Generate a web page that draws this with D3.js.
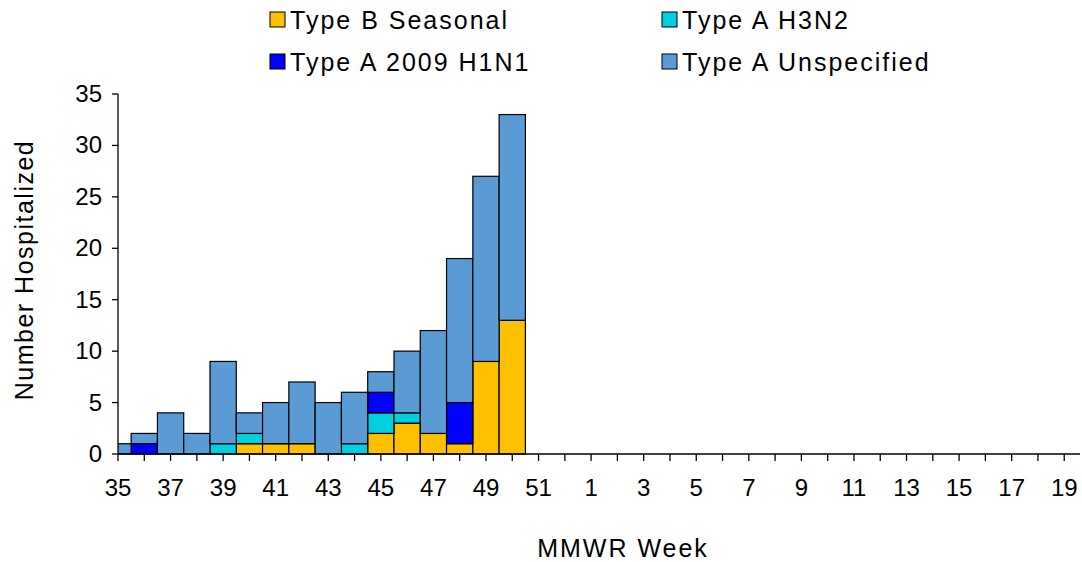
<!DOCTYPE html>
<html><head><meta charset="utf-8">
<script src="https://cdn.jsdelivr.net/npm/d3@7"></script>
<style>body{margin:0;background:#fff}text{font-family:Arial,"Liberation Sans",sans-serif}</style>
</head><body><svg id="c" width="1082" height="562"></svg>
<script>
const weeks = [35,36,37,38,39,40,41,42,43,44,45,46,47,48,49,50,51,52,1,2,3,4,5,6,7,8,9,10,11,12,13,14,15,16,17,18,19];
const typeB   = [0,0,0,0,0,1,1,1,0,0,2,3,2,1,9,13];
const h3n2    = [0,0,0,0,1,1,0,0,0,1,2,1,0,0,0,0];
const h1n1    = [0,1,0,0,0,0,0,0,0,0,2,0,0,4,0,0];
const unspec  = [1,1,4,2,8,2,4,6,5,5,2,6,10,14,18,20];
const yTicks = [0,5,10,15,20,25,30,35];
const colors = {"Type B Seasonal":"#ffc000","Type A H3N2":"#00cfe0","Type A 2009 H1N1":"#0000ff","Type A Unspecified":"#5b9bd5"};

const svg = d3.select("#c");
const L=118,R=1080,T=94,B=454;
const step=(R-L)/36.6;
const x = d3.scalePoint().domain(weeks.map((w,i)=>i)).range([L,L+36*step]);
const y = d3.scaleLinear().domain([0,35]).range([B,T]);

svg.append("defs").append("clipPath").attr("id","pc").append("rect").attr("x",L).attr("y",0).attr("width",R-L).attr("height",B+2);
const rows = typeB.map((b,i)=>({i, "Type B Seasonal":b, "Type A H3N2":h3n2[i], "Type A 2009 H1N1":h1n1[i], "Type A Unspecified":unspec[i]}));
const order = ["Type B Seasonal","Type A H3N2","Type A 2009 H1N1","Type A Unspecified"];
const stack = d3.stack().keys(order)(rows);
const g=svg.append("g").attr("clip-path","url(#pc)");
stack.forEach(s=>{
  g.append("g").selectAll("rect").data(s.filter(d=>d[1]>d[0])).join("rect")
    .attr("x",d=>x(d.data.i)-step/2).attr("width",step)
    .attr("y",d=>y(d[1])).attr("height",d=>y(d[0])-y(d[1]))
    .attr("fill",colors[s.key]).attr("stroke","#000").attr("stroke-width",1.2);
});

svg.append("line").attr("x1",L).attr("x2",L).attr("y1",T).attr("y2",B).attr("stroke","#000").attr("stroke-width",1.3);
svg.append("line").attr("x1",L).attr("x2",R).attr("y1",B).attr("y2",B).attr("stroke","#000").attr("stroke-width",1.3);
yTicks.forEach(t=>{
  svg.append("line").attr("x1",L-6).attr("x2",L).attr("y1",y(t)).attr("y2",y(t)).attr("stroke","#000").attr("stroke-width",1.3);
  svg.append("text").attr("x",L-16).attr("y",y(t)+8).attr("text-anchor","end").attr("font-size",24).text(t);
});
weeks.forEach((w,i)=>{
  const xx=x(i);
  svg.append("line").attr("x1",xx).attr("x2",xx).attr("y1",B).attr("y2",B+7).attr("stroke","#000").attr("stroke-width",1.3);
  if(i%2===0) svg.append("text").attr("x",xx).attr("y",B+42).attr("text-anchor","middle").attr("font-size",24).text(w);
});
svg.append("text").attr("x",623).attr("y",557).attr("text-anchor","middle").attr("font-size",25).attr("letter-spacing",2).text("MMWR Week");
svg.append("text").attr("transform","translate(33,270) rotate(-90)").attr("text-anchor","middle").attr("font-size",25).attr("letter-spacing",1.5).text("Number Hospitalized");

const leg=[["Type B Seasonal",270,20],["Type A H3N2",662,20],["Type A 2009 H1N1",270,62],["Type A Unspecified",662,62]];
leg.forEach(([n,lx,ly])=>{
  svg.append("rect").attr("x",lx).attr("y",ly-8).attr("width",15).attr("height",15).attr("fill",colors[n]).attr("stroke","#000");
  svg.append("text").attr("x",lx+20).attr("y",ly+9).attr("font-size",25).attr("letter-spacing",2).text(n);
});
</script></body></html>
